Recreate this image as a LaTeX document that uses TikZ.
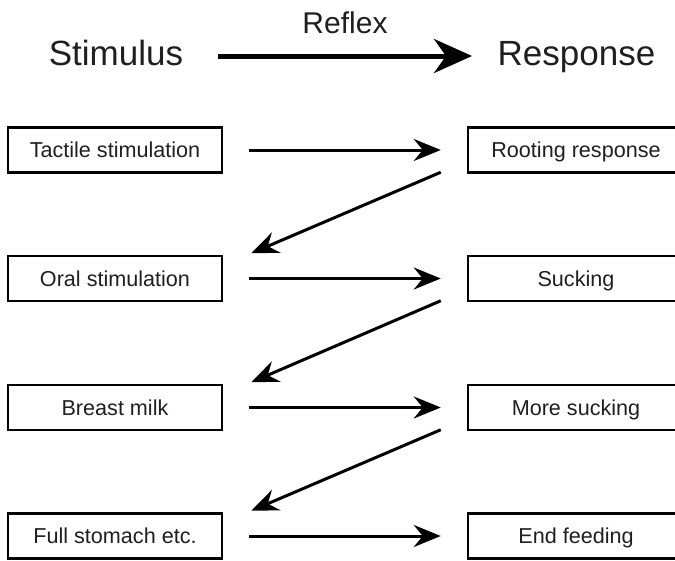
\documentclass[tikz,border=0pt]{standalone}
\usepackage{fontspec}
\setmainfont{Liberation Sans}
\usetikzlibrary{arrows.meta}
\begin{document}
\begin{tikzpicture}[x=1pt,y=-1pt,
  box/.style={draw, line width=2.5pt, inner sep=0pt, minimum height=45pt,
    text height=15.5pt, text depth=0pt, font=\fontsize{21.6}{21.6}\selectfont, text=black!88},
  lbox/.style={box, minimum width=214pt},
  rbox/.style={box, minimum width=216pt},
  conn/.style={line width=3pt, -{Stealth[length=27pt, width=22pt, inset=9pt]}},
  big/.style={line width=5pt, -{Stealth[length=38pt, width=34pt, inset=12pt]}},
  head/.style={anchor=base, text=black!88}]
\useasboundingbox (0,0) rectangle (675,560);
\begin{scope}
\clip (0,0) rectangle (675,560);
% header
\node[head, font=\fontsize{30}{30}\selectfont] (reflex) at (345,33) {Reflex};
\node[head, font=\fontsize{35}{35}\selectfont] (stim) at (116,65) {Stimulus};
\node[head, font=\fontsize{35}{35}\selectfont] (resp) at (576.5,65) {Response};
\coordinate (bigs) at (218,56);
\coordinate (bige) at (472,56);
\draw[big] (bigs) -- (bige);
% boxes
\node[lbox] (L1) at (115,150) {Tactile stimulation};
\node[lbox] (L2) at (115,278.5) {Oral stimulation};
\node[lbox] (L3) at (115,407.5) {Breast milk};
\node[lbox] (L4) at (115,536) {Full stomach etc.};
\node[rbox] (R1) at (576,150) {Rooting response};
\node[rbox] (R2) at (576,278.5) {Sucking};
\node[rbox] (R3) at (576,407.5) {More sucking};
\node[rbox] (R4) at (576,536) {End feeding};
% horizontal arrows
\foreach \i in {1,2,3,4}{
  \draw[conn, shorten <=26pt, shorten >=26pt] (L\i.east) -- (R\i.west);
}
% diagonal arrows
\foreach \i/\j in {1/2,2/3,3/4}{
  \coordinate (ds\i) at ([xshift=-26pt, yshift=1.5pt]R\i.south west);
  \coordinate (de\i) at ([xshift=28pt, yshift=1.5pt]L\j.north east);
  \draw[conn] (ds\i) -- (de\i);
}
\end{scope}
\end{tikzpicture}
\end{document}
